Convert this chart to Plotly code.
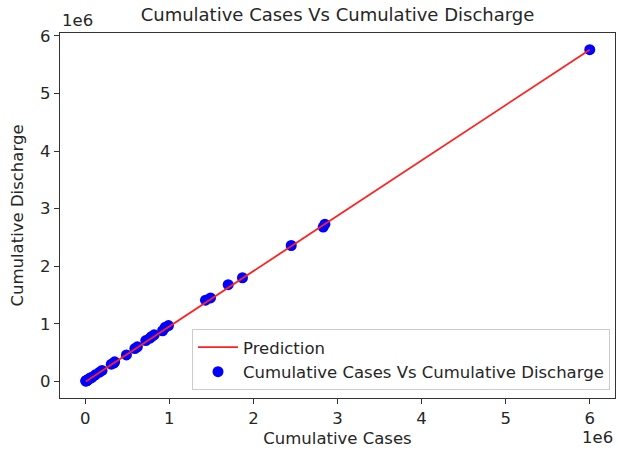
import plotly.graph_objects as go

# Data (Indian states, cumulative cases vs cumulative discharged)
states = ["Maharashtra", "Kerala", "Karnataka", "Tamil Nadu", "Andhra Pradesh",
          "Uttar Pradesh", "West Bengal", "Delhi", "Chhattisgarh", "Rajasthan",
          "Odisha", "Gujarat", "Madhya Pradesh", "Haryana", "Bihar", "Telangana",
          "Punjab", "Assam", "Jharkhand", "Uttarakhand", "Jammu and Kashmir",
          "Himachal Pradesh", "Goa", "Puducherry", "Manipur", "Tripura",
          "Chandigarh", "Meghalaya", "Arunachal Pradesh", "Nagaland", "Mizoram",
          "Sikkim", "Ladakh", "DNHDD", "Lakshadweep", "Andaman and Nicobar"]
cum_cases = [6.00e6, 2.85e6, 2.83e6, 2.45e6, 1.87e6, 1.70e6, 1.49e6, 1.43e6,
             0.99e6, 0.95e6, 0.92e6, 0.82e6, 0.79e6, 0.77e6, 0.72e6, 0.62e6,
             0.59e6, 0.49e6, 0.35e6, 0.34e6, 0.31e6, 0.20e6, 0.17e6, 0.12e6,
             0.08e6, 0.07e6, 0.06e6, 0.05e6, 0.035e6, 0.026e6, 0.02e6, 0.02e6,
             0.02e6, 0.01e6, 0.009e6, 0.007e6]
cum_discharge = [5.76e6, 2.73e6, 2.68e6, 2.36e6, 1.80e6, 1.68e6, 1.45e6, 1.41e6,
                 0.97e6, 0.94e6, 0.88e6, 0.81e6, 0.78e6, 0.75e6, 0.71e6, 0.60e6,
                 0.57e6, 0.46e6, 0.34e6, 0.32e6, 0.30e6, 0.19e6, 0.16e6, 0.115e6,
                 0.07e6, 0.065e6, 0.06e6, 0.045e6, 0.033e6, 0.024e6, 0.015e6, 0.018e6,
                 0.02e6, 0.01e6, 0.008e6, 0.007e6]

# Regression (prediction) line endpoints
pred_x = [0.007e6, 6.00e6]
pred_y = [0.0e6, 5.76e6]

tick_vals = [0, 1e6, 2e6, 3e6, 4e6, 5e6, 6e6]
tick_text = ["0", "1", "2", "3", "4", "5", "6"]

FONT = "DejaVu Sans"
FS = 16.5

fig = go.Figure()
fig.add_trace(go.Scatter(
    x=cum_cases, y=cum_discharge, mode="markers",
    name="Cumulative Cases Vs Cumulative Discharge",
    marker=dict(color="blue", size=11, line=dict(width=0)),
))
fig.add_trace(go.Scatter(
    x=pred_x, y=pred_y, mode="lines", name="Prediction",
    line=dict(color="#ff2020", width=1.8),
))

axis_common = dict(
    showgrid=False, zeroline=False, showline=True, linecolor="#333333",
    linewidth=1.2, mirror=True, ticks="outside", ticklen=5, tickwidth=1.2,
    tickcolor="#333333", tickfont=dict(family=FONT, size=FS, color="#262626"),
    tickvals=tick_vals, ticktext=tick_text,
)

fig.update_layout(
    width=618, height=455,
    margin=dict(l=60, r=3, t=33, b=57),
    paper_bgcolor="white", plot_bgcolor="white",
    font=dict(family=FONT, color="#262626"),
    title=dict(text="Cumulative Cases Vs Cumulative Discharge",
               x=0.5, xref="paper", xanchor="center",
               y=1 - 15 / 455, yanchor="middle",
               font=dict(family=FONT, size=18, color="#262626")),
    xaxis=dict(axis_common, range=[-0.3e6, 6.3e6],
               title=dict(text="Cumulative Cases", standoff=5,
                          font=dict(family=FONT, size=FS, color="#262626"))),
    yaxis=dict(axis_common, range=[-0.288e6, 6.05e6],
               title=dict(text="Cumulative Discharge", standoff=12,
                          font=dict(family=FONT, size=FS, color="#262626"))),
    showlegend=True,
    legend=dict(x=0.991, y=0.022, xanchor="right", yanchor="bottom",
                bgcolor="rgba(255,255,255,0.8)", bordercolor="#cccccc",
                borderwidth=1, traceorder="reversed", tracegroupgap=0,
                font=dict(family=FONT, size=FS, color="#262626"),
                itemwidth=40),
    annotations=[
        dict(text="1e6", xref="paper", yref="paper", x=0, y=1,
             xanchor="left", yanchor="bottom", showarrow=False, yshift=1,
             font=dict(family=FONT, size=FS, color="#262626")),
        dict(text="1e6", xref="paper", yref="paper", x=1, y=0,
             xanchor="right", yanchor="top", showarrow=False, yshift=-28,
             font=dict(family=FONT, size=FS, color="#262626")),
    ],
)

fig.write_html("out.html")
